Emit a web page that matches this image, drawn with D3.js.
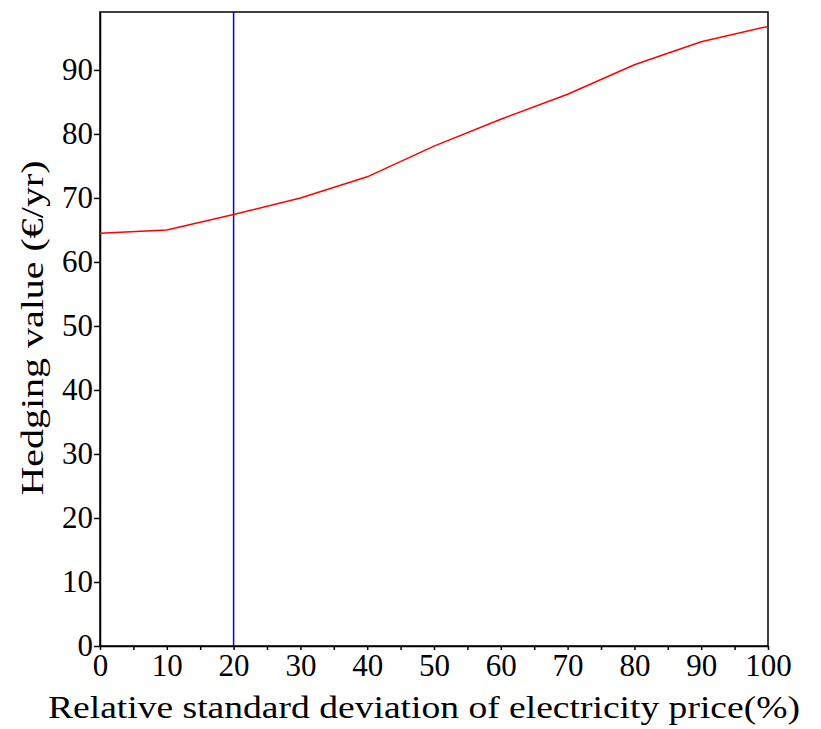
<!DOCTYPE html>
<html>
<head>
<meta charset="utf-8">
<script src="https://cdn.jsdelivr.net/npm/d3@7"></script>
<style>
  body { margin: 0; background: #fff; }
  text { font-family: "Liberation Serif", serif; fill: #000; }
</style>
</head>
<body>
<div id="chart"></div>
<script>
// data
const stdDev = [0, 10, 20, 30, 40, 50, 60, 70, 80, 90, 100];
const hedgeValue = [64.5, 65.0, 67.4, 70.0, 73.3, 78.1, 82.3, 86.2, 90.8, 94.4, 96.8];
const markerX = 20;
const xTicks = [0, 10, 20, 30, 40, 50, 60, 70, 80, 90, 100];
const yTicks = [0, 10, 20, 30, 40, 50, 60, 70, 80, 90];

const width = 821, height = 729;
const margin = {t:12, r:53, b:83, l:100};
const w = width - margin.l - margin.r;
const h = height - margin.t - margin.b;

const svg = d3.select('#chart').append('svg')
  .attr('width', width)
  .attr('height', height);
const plot = svg.append('g')
  .attr('transform', `translate(${margin.l},${margin.t})`);

const scaleX = d3.scaleLinear().domain([0,100]).range([0,w]);
const scaleY = d3.scaleLinear().domain([0,99.05]).range([h,0]);

// frame
plot.append('rect')
  .attr('width', w).attr('height', h)
  .style('fill','none').style('stroke','#000').style('stroke-width',1.5);

// x axis: ticks every 5, labels every 10
const axisX = d3.axisBottom(scaleX)
  .tickValues(d3.range(0,101,5))
  .tickSize(4)
  .tickSizeOuter(0)
  .tickPadding(4)
  .tickFormat(d => xTicks.includes(d) ? d : '');
const gx = plot.append('g').attr('transform',`translate(0,${h})`).call(axisX);

const axisY = d3.axisLeft(scaleY)
  .tickValues(yTicks)
  .tickSize(6)
  .tickSizeOuter(0)
  .tickPadding(1);
const gy = plot.append('g').call(axisY);

[gx, gy].forEach(g => {
  g.select('.domain').style('stroke','#000').style('stroke-width',1.5);
  g.selectAll('.tick line').style('stroke','#000').style('stroke-width',1.5);
  g.selectAll('.tick text')
    .style('font-family','"Liberation Serif", serif')
    .style('font-size','31px')
    .style('fill','#000');
});

// vertical marker line
plot.append('line')
  .attr('x1', scaleX(markerX)).attr('x2', scaleX(markerX))
  .attr('y1', 0).attr('y2', h)
  .style('stroke','#0000ff').style('stroke-width',1.5);

// hedging value curve
const line = d3.line()
  .x((d,i) => scaleX(stdDev[i]))
  .y(d => scaleY(d));
plot.append('path')
  .datum(hedgeValue)
  .attr('d', line)
  .style('fill','none').style('stroke','#ff0000').style('stroke-width',1.5);

// axis titles
svg.append('text')
  .attr('x', 424).attr('y', 718)
  .attr('text-anchor','middle')
  .attr('textLength', 752)
  .attr('lengthAdjust','spacingAndGlyphs')
  .style('font-size','32px')
  .text('Relative standard deviation of electricity price(%)');

svg.append('text')
  .attr('transform', `translate(43,328) rotate(-90)`)
  .attr('text-anchor','middle')
  .attr('textLength', 335)
  .attr('lengthAdjust','spacingAndGlyphs')
  .style('font-size','32px')
  .text('Hedging value (€/yr)');
</script>
</body>
</html>
